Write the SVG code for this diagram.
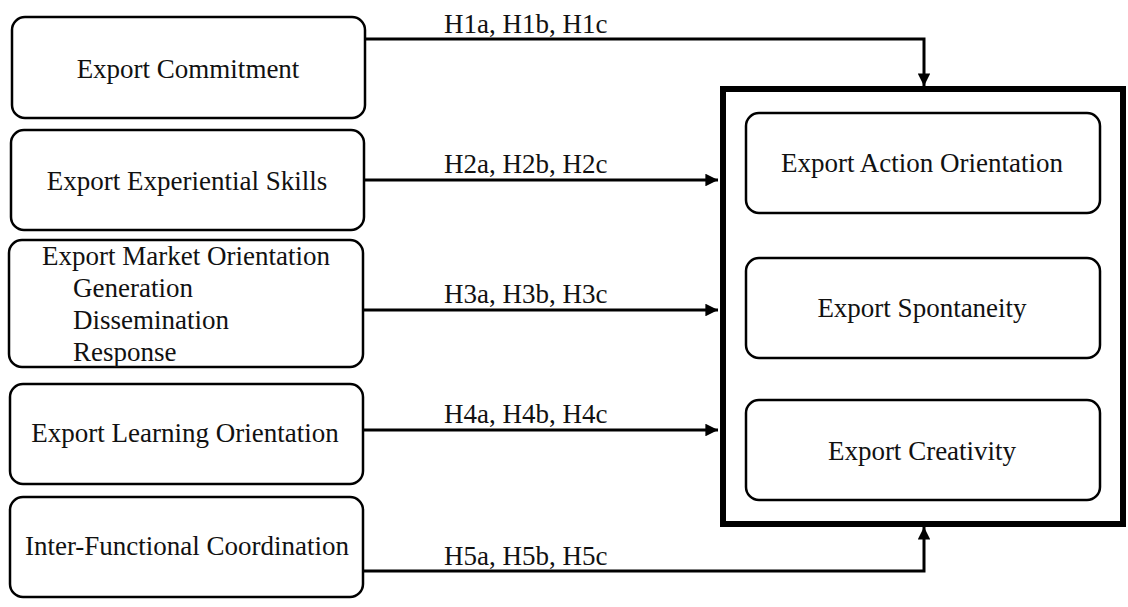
<svg xmlns="http://www.w3.org/2000/svg" width="1128" height="607" viewBox="0 0 1128 607">
<style>
.box{fill:#fff;stroke:#000;stroke-width:2.5}
.t{font-family:"Liberation Serif","Times New Roman",serif;font-size:27px;fill:#111}
.c{text-anchor:middle}
.lab{font-family:"Liberation Serif","Times New Roman",serif;font-size:27px;fill:#111}
.ln{fill:none;stroke:#000;stroke-width:3}
</style>
<defs>
<marker id="ah" viewBox="0 0 10 10" refX="10" refY="5" markerWidth="4.2" markerHeight="4.2" orient="auto" markerUnits="strokeWidth">
<path d="M0,0 L10,5 L0,10 Z" fill="#000"/>
</marker>
</defs>
<rect width="1128" height="607" fill="#fff"/>
<g id="n1"><rect class="box" x="12" y="17" width="353" height="101" rx="13"/><text class="t c" x="188" y="78">Export Commitment</text></g>
<g id="n2"><rect class="box" x="11" y="130" width="353" height="100" rx="13"/><text class="t c" x="187" y="190">Export Experiential Skills</text></g>
<g id="n3"><rect class="box" x="9" y="240" width="354" height="127" rx="13"/>
<text class="t c" x="186" y="265">Export Market Orientation</text>
<text class="t" x="73" y="297">Generation</text>
<text class="t" x="73" y="329">Dissemination</text>
<text class="t" x="73" y="361">Response</text></g>
<g id="n4"><rect class="box" x="10" y="384" width="353" height="100" rx="13"/><text class="t c" x="185" y="442">Export Learning Orientation</text></g>
<g id="n5"><rect class="box" x="10" y="497" width="353" height="100" rx="13"/><text class="t c" x="187" y="555">Inter-Functional Coordination</text></g>
<g id="group"><rect x="723" y="89" width="400" height="435" fill="#fff" stroke="#000" stroke-width="6"/></g>
<g id="r1"><rect class="box" x="746" y="113" width="354" height="100" rx="13"/><text class="t c" x="922" y="172">Export Action Orientation</text></g>
<g id="r2"><rect class="box" x="746" y="258" width="354" height="100" rx="13"/><text class="t c" x="922" y="317">Export Spontaneity</text></g>
<g id="r3"><rect class="box" x="746" y="400" width="354" height="100" rx="13"/><text class="t c" x="922" y="460">Export Creativity</text></g>
<g id="connectors">
<path class="ln" d="M365,39 H924 V86" marker-end="url(#ah)"/>
<path class="ln" d="M364,180 H718" marker-end="url(#ah)"/>
<path class="ln" d="M363,310 H718" marker-end="url(#ah)"/>
<path class="ln" d="M363,430 H718" marker-end="url(#ah)"/>
<path class="ln" d="M363,571 H924 V527" marker-end="url(#ah)"/>
<text class="lab" x="444" y="33">H1a, H1b, H1c</text>
<text class="lab" x="444" y="173">H2a, H2b, H2c</text>
<text class="lab" x="444" y="303">H3a, H3b, H3c</text>
<text class="lab" x="444" y="423">H4a, H4b, H4c</text>
<text class="lab" x="444" y="565">H5a, H5b, H5c</text>
</g>
</svg>
